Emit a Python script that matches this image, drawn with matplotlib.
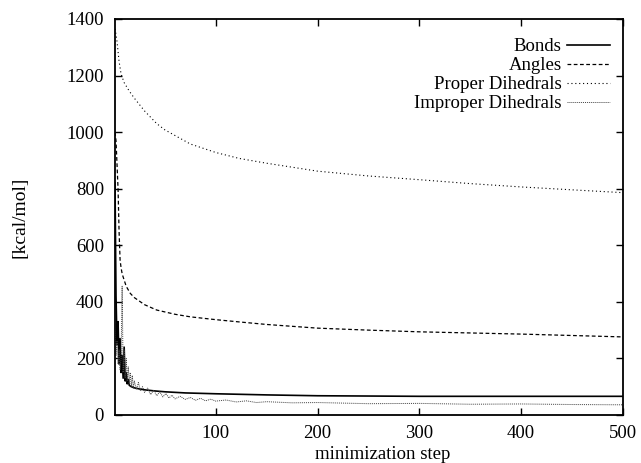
import matplotlib.pyplot as plt

# energy terms vs. minimization step
bonds_steps = [1, 2, 3, 4, 5, 6, 7, 8, 9, 10, 11, 12, 13, 14, 15, 17, 20, 25, 30,
               40, 50, 70, 100, 150, 200, 300, 400, 500]
bonds = [820, 420, 250, 330, 180, 270, 150, 210, 130, 240, 120, 150, 110, 125, 105,
         100, 96, 92, 89, 85, 82, 78, 75, 71, 68, 66, 66, 66]

angles_steps = [1, 2, 4, 5, 6, 7, 8, 9, 12, 16, 20, 30, 42, 60, 75, 100, 123, 150,
                200, 250, 300, 350, 400, 450, 500]
angles = [1000, 970, 800, 650, 548, 520, 500, 488, 455, 430, 415, 390, 371, 356,
          347, 337, 329, 320, 307, 300, 294, 290, 286, 281, 276]

proper_steps = [1, 2, 3, 5, 7, 10, 15, 20, 30, 42, 50, 75, 100, 123, 150, 200, 250,
                303, 350, 401, 450, 500]
proper = [1365, 1345, 1320, 1250, 1205, 1175, 1145, 1120, 1075, 1030, 1008, 958,
          928, 907, 890, 862, 845, 831, 818, 806, 796, 786]

improper_steps = [1, 2, 3, 4, 5, 6, 7, 8, 9, 10, 11, 12, 13, 14, 15, 16, 17, 18,
                  19, 20, 22, 24, 26, 28, 30, 33, 36, 39, 42, 45, 48, 51, 54, 57,
                  60, 65, 70, 75, 80, 85, 90, 95, 100, 110, 120, 130, 140, 150,
                  175, 200, 250, 300, 350, 400, 450, 500]
improper = [320, 210, 260, 180, 230, 160, 200, 455, 150, 230, 130, 200, 120, 170,
            110, 150, 100, 140, 95, 120, 90, 115, 85, 100, 80, 95, 72, 88, 68, 82,
            64, 76, 60, 70, 57, 66, 55, 62, 52, 59, 50, 56, 49, 53, 46, 50, 44, 47,
            43, 44, 40, 41, 38, 39, 37, 36]

plt.rcParams['font.family'] = ['Liberation Serif', 'DejaVu Serif']
plt.rcParams['font.size'] = 13.5

fig = plt.figure(figsize=(6.41, 4.63), dpi=100)
ax = fig.add_axes([0.1794, 0.1037, 0.7925, 0.8553])

ax.plot(bonds_steps, bonds, color='black', lw=1.2, ls='-', label='Bonds')
ax.plot(angles_steps, angles, color='black', lw=0.9, ls=(0, (3, 2)), label='Angles')
ax.plot(proper_steps, proper, color='black', lw=0.8, ls=(0, (1, 2.5)),
        label='Proper Dihedrals')
ax.plot(improper_steps, improper, color='#444444', lw=0.7, ls=(0, (1, 1)),
        label='Improper Dihedrals')

ax.set_xlim(1, 500)
ax.set_ylim(0, 1400)
ax.set_xticks([100, 200, 300, 400, 500])
ax.set_yticks(range(0, 1401, 200))
ax.tick_params(direction='in', top=True, right=True, length=5, width=1)
ax.tick_params(axis='y', pad=8)
ax.tick_params(axis='x', pad=7)
for s in ax.spines.values():
    s.set_linewidth(1.3)

ax.set_xlabel('minimization step', fontsize=13.5, va='top')
ax.xaxis.set_label_coords(0.526, -0.078)
ax.set_ylabel('[kcal/mol]', fontsize=14, va='center')
ax.yaxis.set_label_coords(-0.187, 0.5)

ax.legend(loc='upper right', bbox_to_anchor=(0.974, 0.952), frameon=False,
          markerfirst=False, fontsize=13.5, handlelength=2.3, handletextpad=0.27,
          labelspacing=0.1, borderpad=0, borderaxespad=0)

fig.savefig('out.png', dpi=100)
